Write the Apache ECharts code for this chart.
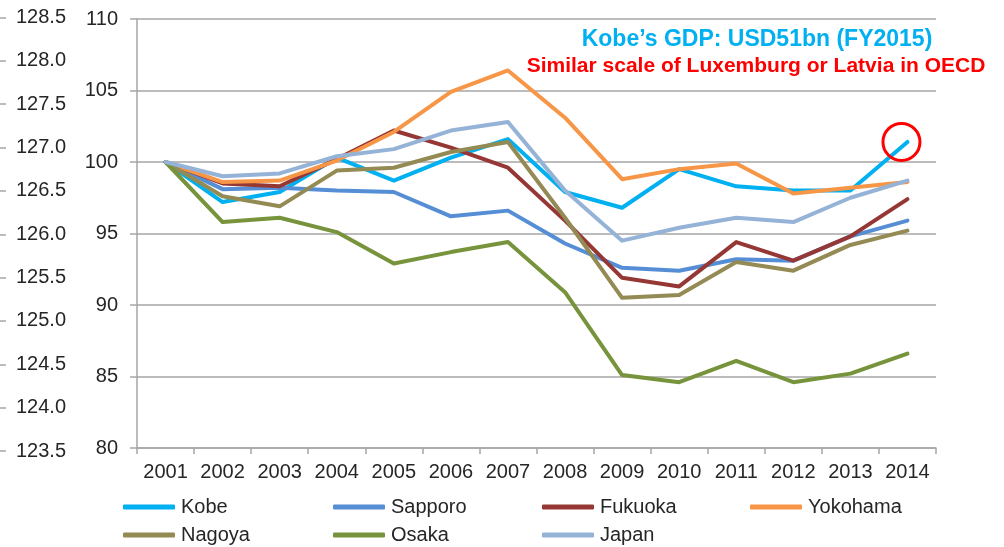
<!DOCTYPE html>
<html>
<head>
<meta charset="utf-8">
<script src="https://cdn.jsdelivr.net/npm/echarts@6/dist/echarts.min.js"></script>
<style>
  html, body { margin: 0; padding: 0; background: #fff; }
  #main { width: 1004px; height: 547px; }
</style>
</head>
<body>
<div id="main"></div>
<script>
var years = ['2001', '2002', '2003', '2004', '2005', '2006', '2007', '2008', '2009', '2010', '2011', '2012', '2013', '2014'];
var kobe = [100, 97.2, 97.9, 100.3, 98.7, 100.3, 101.6, 97.9, 96.8, 99.5, 98.3, 98.0, 98.0, 101.4];
var sapporo = [100, 98.1, 98.2, 98.0, 97.9, 96.2, 96.6, 94.3, 92.6, 92.4, 93.2, 93.1, 94.8, 95.9];
var fukuoka = [100, 98.5, 98.3, 100.2, 102.2, 101.0, 99.6, 95.9, 91.9, 91.3, 94.4, 93.1, 94.8, 97.4];
var yokohama = [100, 98.6, 98.7, 100.1, 102.1, 104.9, 106.4, 103.1, 98.8, 99.5, 99.9, 97.8, 98.2, 98.6];
var nagoya = [100, 97.6, 96.9, 99.4, 99.6, 100.7, 101.4, 96.1, 90.5, 90.7, 93.0, 92.4, 94.2, 95.2];
var osaka = [100, 95.8, 96.1, 95.1, 92.9, 93.7, 94.4, 90.9, 85.1, 84.6, 86.1, 84.6, 85.2, 86.6];
var japan = [100, 99.0, 99.2, 100.4, 100.9, 102.2, 102.8, 98.0, 94.5, 95.4, 96.1, 95.8, 97.5, 98.7];

var font = 'Liberation Sans, Arial, sans-serif';
var textColor = '#262626';
var gridColor = '#a6a6a6';

var chart = echarts.init(document.getElementById('main'));

function line(name, data, color) {
    return {
        name: name,
        type: 'line',
        data: data,
        symbol: 'none',
        xAxisIndex: 0,
        yAxisIndex: 0,
        lineStyle: { width: 4, color: color, cap: 'round', join: 'round' },
        itemStyle: { color: color }
    };
}

function legendCol(left, names) {
    return {
        data: names,
        orient: 'vertical',
        left: left,
        top: 497,
        padding: 0,
        itemGap: 8,
        itemWidth: 52,
        itemHeight: 5,
        icon: 'roundRect',
        textStyle: { fontFamily: font, fontSize: 20, lineHeight: 20, color: textColor, padding: [0, 0, 0, 1] }
    };
}

var kobeSeries = line('Kobe', kobe, '#00B0F0');
// red ring around the last Kobe point
kobeSeries.markPoint = {
    symbol: 'circle',
    symbolSize: 37,
    symbolOffset: [-6, 0],
    silent: true,
    label: { show: false },
    itemStyle: { color: 'rgba(0,0,0,0)', borderColor: '#FF0000', borderWidth: 3 },
    data: [{ coord: [years[13], kobe[13]] }]
};

var option = {
    animation: false,
    backgroundColor: '#fff',
    textStyle: { fontFamily: font },
    grid: [
        { left: 137, right: 68, top: 19, bottom: 99 },
        { left: 6, width: 1, top: 17.5, bottom: 96 }
    ],
    legend: [
        legendCol(123, ['Kobe', 'Nagoya']),
        legendCol(333, ['Sapporo', 'Osaka']),
        legendCol(542, ['Fukuoka', 'Japan']),
        legendCol(750, ['Yokohama'])
    ],
    xAxis: [{
        type: 'category',
        gridIndex: 0,
        data: years,
        boundaryGap: true,
        axisLine: { lineStyle: { color: gridColor, width: 1.5 } },
        axisTick: { show: true, interval: 0, length: 6, lineStyle: { color: gridColor, width: 1.5 } },
        axisLabel: { interval: 0, fontFamily: font, fontSize: 20, color: textColor, margin: 14 }
    }, {
        type: 'value',
        gridIndex: 1,
        show: false
    }],
    yAxis: [{
        type: 'value',
        gridIndex: 0,
        min: 80,
        max: 110,
        interval: 5,
        axisLine: { show: true, lineStyle: { color: gridColor, width: 1.5 } },
        axisTick: { show: true, length: 7, lineStyle: { color: gridColor, width: 1.5 } },
        splitLine: { lineStyle: { color: gridColor, width: 1.5 } },
        axisLabel: { fontFamily: font, fontSize: 20, color: textColor, margin: 19 }
    }, {
        type: 'value',
        gridIndex: 1,
        min: 123.5,
        max: 128.5,
        interval: 0.5,
        axisLine: { show: false },
        axisTick: { show: true, inside: false, length: 6, lineStyle: { color: gridColor, width: 1.5 } },
        splitLine: { show: false },
        axisLabel: {
            inside: true,
            margin: 10,
            fontFamily: font,
            fontSize: 20,
            color: textColor,
            formatter: function (v) { return v.toFixed(1); }
        }
    }],
    graphic: [{
        type: 'text',
        x: 757,
        y: 40,
        style: {
            text: 'Kobe\u2019s GDP: USD51bn (FY2015)',
            align: 'center',
            verticalAlign: 'middle',
            font: 'bold 23px ' + font,
            fill: '#00B0F0'
        }
    }, {
        type: 'text',
        x: 756,
        y: 66,
        style: {
            text: 'Similar scale of Luxemburg or Latvia in OECD',
            align: 'center',
            verticalAlign: 'middle',
            font: 'bold 21px ' + font,
            fill: '#FF0000'
        }
    }],
    series: [
        kobeSeries,
        line('Sapporo', sapporo, '#558ED5'),
        line('Fukuoka', fukuoka, '#953735'),
        line('Yokohama', yokohama, '#F79646'),
        line('Nagoya', nagoya, '#948A54'),
        line('Osaka', osaka, '#77933C'),
        line('Japan', japan, '#95B3D7')
    ]
};

chart.setOption(option);
</script>
</body>
</html>
